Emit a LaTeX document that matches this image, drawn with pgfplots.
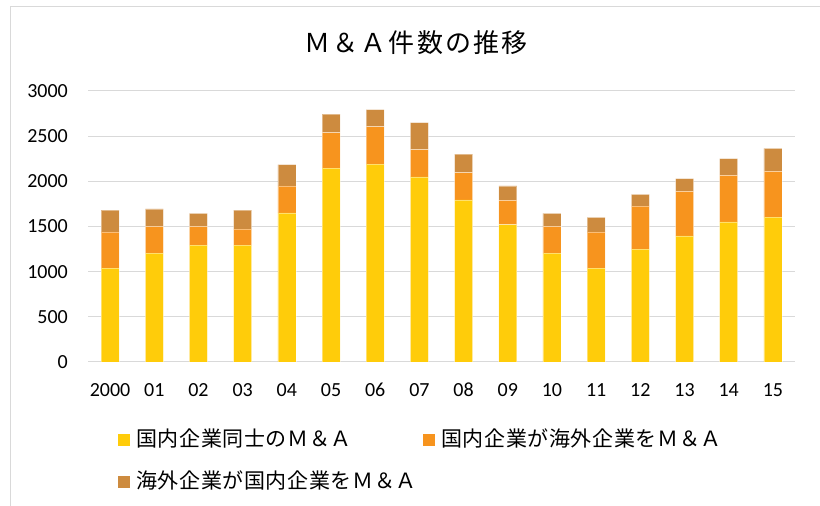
\documentclass[border=0pt]{standalone}
\usepackage{pgfplots}
\pgfplotsset{compat=1.18}
\usepackage{fontspec}
\setmainfont{Noto Sans CJK JP}
\newfontfamily\numfont{Carlito}
\newfontfamily\cjkt[LetterSpace=8]{Noto Sans CJK JP}
\newfontfamily\cjkl[LetterSpace=3]{Noto Sans CJK JP}
\definecolor{cA}{HTML}{FFCC0A}
\definecolor{cB}{HTML}{F7941E}
\definecolor{cC}{HTML}{CD8B3F}
\definecolor{gridc}{HTML}{D9D9D9}
\begin{document}
\begin{tikzpicture}[x=1bp,y=1bp]
\useasboundingbox (0,0) rectangle (820,506);
\draw[gridc, line width=1bp] (10,0) -- (10,499.5) -- (820,499.5);
\node[font=\cjkt\fontsize{26bp}{30bp}\selectfont, text=black] at (416,463) {Ｍ＆Ａ件数の推移};
\begin{axis}[
  at={(88bp,144bp)}, anchor=south west, scale only axis,
  width=707bp, height=271bp,
  ybar stacked, bar width=18bp,
  xmin=-0.5, xmax=15.5, ymin=0, ymax=3000,
  xtick={0,...,15},
  xticklabels={2000,01,02,03,04,05,06,07,08,09,10,11,12,13,14,15},
  ytick={0,500,...,3000},
  axis line style={draw=none},
  ymajorgrids, major grid style={gridc, line width=1bp},
  major tick length=0pt,
  /pgf/number format/assume math mode=true,
  /pgf/number format/1000 sep={},
  xticklabel style={font=\numfont\fontsize{20bp}{24bp}\selectfont, text=black, inner sep=0pt, anchor=north, yshift=-21bp},
  yticklabel style={font=\numfont\fontsize{20bp}{24bp}\selectfont, text=black, inner sep=0pt, anchor=east, xshift=-20bp},
  legend columns=2,
  legend style={at={(axis description cs:0.0424,-0.262)}, anchor=north west, draw=none, fill=none, inner sep=0pt,
    column sep=6bp, row sep=29bp,
    nodes={inner sep=0pt, anchor=west, text width=281bp, align=left, text height=13bp, text depth=0bp, font=\cjkl\fontsize{21bp}{24bp}\selectfont, text=black}},
  legend image code/.code={\fill[#1, draw=none] (0bp,-6bp) rectangle (12bp,6bp);},
]
\addplot[fill=cA, draw=white, draw opacity=0.4, line width=0.6bp] coordinates {(0,1040) (1,1205) (2,1295) (3,1295) (4,1650) (5,2145) (6,2190) (7,2050) (8,1795) (9,1520) (10,1205) (11,1040) (12,1250) (13,1395) (14,1550) (15,1605)};
\addplot[fill=cB, draw=white, draw opacity=0.4, line width=0.6bp] coordinates {(0,400) (1,295) (2,205) (3,175) (4,300) (5,395) (6,415) (7,300) (8,300) (9,270) (10,295) (11,400) (12,475) (13,495) (14,515) (15,505)};
\addplot[fill=cC, draw=white, draw opacity=0.4, line width=0.6bp] coordinates {(0,240) (1,195) (2,145) (3,210) (4,235) (5,205) (6,190) (7,300) (8,205) (9,160) (10,145) (11,160) (12,130) (13,140) (14,185) (15,255)};
\legend{国内企業同士のＭ＆Ａ, 国内企業が海外企業をＭ＆Ａ, 海外企業が国内企業をＭ＆Ａ}
\end{axis}
\end{tikzpicture}
\end{document}
